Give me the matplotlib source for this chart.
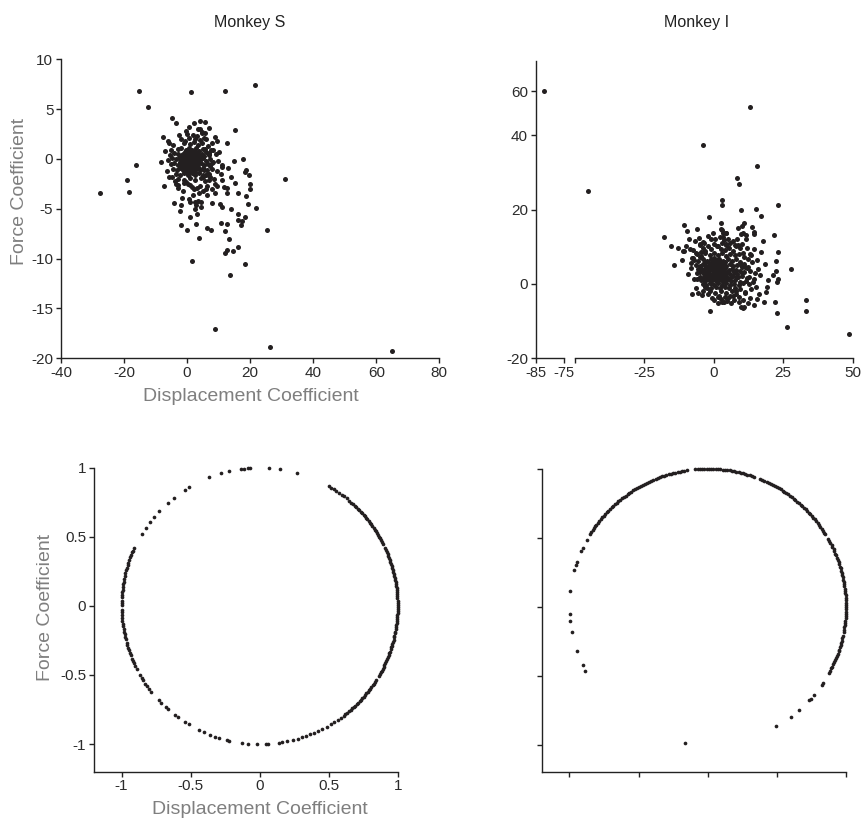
import numpy as np
import matplotlib
matplotlib.use('Agg')
import matplotlib.pyplot as plt

plt.rcParams['font.family'] = ['Liberation Sans', 'DejaVu Sans']
plt.rcParams['axes.unicode_minus'] = False

# ---- Monkey S, raw coefficients (scattered points, then the dense core) ----
s_disp = [
    -15.2, -12.4, 1.1, 11.9, 21.4, -27.7, -19.2, -18.4, -16.1, -7.8,
    -6.1, -4.7, -3.5, -0.4, 0.6, 2.3, 4.0, 5.7, 3.5, 7.1,
    4.7, 15.3, 8.9, 9.4, 12.6, 30.9, 17.8, 18.4, 18.8, 19.5,
    20.1, 13.1, 11.1, 15.3, 16.1, 18.7, 19.2, 21.8, 12.8, 11.6,
    11.1, 12.6, 16.0, 16.1, 17.1, 17.5, 18.3, 25.4, 10.4, 11.2,
    8.0, 10.7, 12.5, 11.9, 6.4, 7.5, 2.7, 0.1, -2.0, -2.2,
    -4.1, -1.5, 0.5, 0.8, 2.4, 3.4, 4.5, 4.4, 2.9, 3.7,
    13.3, 16.2, 14.6, 12.5, 11.9, 18.5, 1.4, 13.6, 8.8, 26.4,
    65.0, -7.3, -5.9, -3.5, -2.9, -1.1, -0.3, 1.5, 2.2, 3.1,
    4.1, 5.9, 6.4, 6.9, 8.8, 9.4, 7.4, 6.8,
    5.7, 8.1, 9.2, 6.9, 8.1, 7.3, 5.4, 6.1, 5.1, 10.0,
    -7.0, -6.5, -8.2, -4.8, -3.8, -2.5, 0.0, 1.8, 3.2, 4.6,
    6.0, 7.8, 9.5, 8.5, 10.6, 9.0, -5.8, -3.0, -1.2, 0.4,
    2.0, 3.8, 5.0, 6.4, 7.0, 1.0, -0.8, 8.0, 9.8, 11.2,
    14.0, 15.0, 13.8, 20.0, 5.6, 4.2, -1.8, 3.0, 0.8, 2.4,
    -2.0, 0.5, 2.5, 4.0, 5.5, -4.5, -1.0, 1.0, 2.2, 3.5,
    4.8, 6.5, -5.0, -3.0, -1.8, -0.5, 0.5, 1.5, 2.8, 3.8,
    5.0, 6.0, 7.5, -5.5, -4.0, -2.8, -1.5, -0.6, 0.3, 1.2,
    2.0, 3.0, 3.8, 4.6, 5.5, 6.8, -6.0, -4.8, -3.5, -2.5,
    -1.6, -0.8, 0.0, 0.8, 1.6, 2.4, 3.2, 4.0, 5.0, 6.0,
    7.2, -5.2, -4.0, -3.0, -2.0, -1.2, -0.4, 0.4, 1.2, 2.0,
    2.8, 3.6, 4.5, 5.4, 6.5, 8.0, -4.5, -3.2, -2.2, -1.2,
    -0.3, 0.6, 1.5, 2.4, 3.3, 4.2, 5.2, 6.3, 7.8, -3.5,
    -2.2, -1.0, 0.2, 1.4, 2.6, 3.8, 5.0, 6.2, -2.8, -1.0,
    0.8, 2.6, 4.4, 5.8, -1.8, -1.0, -0.2, 0.5, 1.0, 1.8,
    2.6, 3.4, -1.4, -0.6, 0.2, 1.0, 1.8, 2.6, 3.4, -0.8,
    0.0, 0.8, 1.6, 2.4, 3.2, -0.4, 0.6, 1.6, 2.6, 3.0,
    -2.4, 4.2, 1.3, 2.1, 0.9, -0.1, 1.9, 2.9, 3.9, -1.3,
]
s_force = [
    6.8, 5.2, 6.7, 6.8, 7.4, -3.4, -2.1, -3.3, -0.6, 2.2,
    1.8, 4.1, 3.6, 2.8, 3.2, 3.6, 3.8, 3.7, 3.0, 3.1,
    2.7, 2.9, 2.2, 1.8, 1.6, -2.0, 0.0, -1.3, -1.1, -1.6,
    -2.5, -0.9, -0.8, -2.4, -3.4, -3.7, -4.5, -4.9, -3.4, -2.8,
    -2.1, -2.9, -5.5, -6.1, -6.6, -6.2, -5.8, -7.1, -4.5, -4.8,
    -4.4, -6.4, -6.5, -7.2, -6.9, -7.1, -6.5, -7.1, -6.6, -5.2,
    -4.4, -3.9, -4.0, -4.3, -4.3, -4.2, -4.3, -4.8, -4.6, -7.9,
    -8.0, -8.8, -9.2, -9.1, -9.4, -10.5, -10.2, -11.6, -17.1, -18.9,
    -19.3, -2.7, -1.8, -2.5, -2.9, -2.4, -2.3, -2.8, -3.0, -2.9,
    -2.7, -3.0, -2.7, -2.1, -2.5, -2.7, -1.8, -1.5,
    1.0, 0.9, 0.5, 0.4, -0.3, -0.7, -1.1, -1.6, -1.8, 0.7,
    0.8, -1.2, -0.3, -1.8, -2.2, 2.4, 2.5, 2.4, 2.3, 2.6,
    2.0, 1.6, -1.2, -2.0, -1.5, -3.4, 1.6, -2.6, -3.2, -2.5,
    -3.6, -3.4, -3.2, -3.6, 0.6, -2.6, 1.8, -3.0, -0.2, -0.6,
    -1.8, -0.2, -5.0, -3.0, 2.6, 3.0, -4.6, -5.5, -5.8, -5.0,
    2.0, 2.1, 2.0, 1.9, 2.1, 1.4, 1.6, 1.5, 1.7, 1.4,
    1.6, 1.3, 0.9, 1.0, 1.1, 0.9, 1.1, 0.9, 1.1, 0.8,
    1.0, 0.7, 0.9, 0.4, 0.6, 0.5, 0.4, 0.6, 0.5, 0.6,
    0.4, 0.6, 0.4, 0.5, 0.3, 0.5, -0.1, 0.1, 0.0, 0.1,
    -0.1, 0.1, 0.0, 0.1, -0.1, 0.1, 0.0, -0.1, 0.1, -0.2,
    0.0, -0.5, -0.4, -0.6, -0.4, -0.6, -0.5, -0.4, -0.6, -0.4,
    -0.6, -0.5, -0.4, -0.6, -0.5, -0.4, -1.0, -1.1, -0.9, -1.1,
    -0.9, -1.1, -0.9, -1.1, -0.9, -1.1, -0.9, -1.1, -1.0, -1.5,
    -1.6, -1.4, -1.6, -1.4, -1.6, -1.4, -1.6, -1.5, -2.0, -2.1,
    -1.9, -2.1, -1.9, -2.2, 0.2, -0.3, 0.3, -0.2, 0.3, -0.3,
    0.2, -0.3, -0.7, -0.2, -0.8, -0.3, -0.8, -0.3, -0.8, 0.7,
    0.4, 0.8, 0.4, 0.8, 0.4, -1.3, -1.3, -1.2, -1.3, -0.1,
    -0.3, 0.2, 0.1, -0.6, -0.5, -0.2, 0.6, 0.3, -0.2, 0.5,
]

# ---- Monkey I, raw coefficients ----
i_disp = [
    -82.0, -45.2, 13.0, -3.7, 15.7, 8.3, 9.0, 2.9, 3.1, 23.3,
    9.8, 15.2, 16.9, -1.8, -17.9, -15.4, -14.4, -10.6, -9.6, -5.9,
    -11.2, -10.8, -7.7, -7.7, -3.7, -1.2, 2.8, 2.6, 4.3, 3.3,
    10.8, 10.3, 8.9, 9.7, 10.7, 11.6, 11.7, 13.6, 14.4, 14.4,
    21.7, 17.6, 14.4, 17.0, 23.3, 22.4, 18.4, 27.9, 22.4, 21.3,
    23.0, 22.6, 19.7, 19.1, 18.8, 15.3, 14.4, 18.1, 22.1, 22.8,
    33.1, 33.2, 26.4, 48.7, 14.5, 9.8, 11.0, 9.0, 3.0, 3.8,
    1.7, 10.6, 11.1, 13.3, 12.8, 3.0, -0.1, 3.5, 4.4, -4.8,
    -3.8, 1.1, 4.5, 8.7, -7.5, -5.0, -0.6, 16.5, 12.5, 16.0,
    -9.0, -8.0, -6.8, -5.2, -4.0, -2.2, 0.6, 2.2, 3.8, 5.2,
    6.8, 8.4, 10.2, 11.8, 13.2, 12.4, 10.8, 7.6, 5.0, -1.0,
    -10.0, -8.5, -9.2, -7.0, -11.5, -12.8, 13.8, 15.0, 12.6, 14.2,
    16.2, 11.2, 13.0, 15.4, 9.2, 7.4, 10.6, 12.2, 8.2, 6.2,
    -6.5, -5.5, -4.2, -3.0, 0.0, 1.5, 4.8, 6.8, -2.2, -0.6,
    2.8, 5.2, 8.8, 9.8, 11.4, -6.0, -8.0, -4.8, 13.5, 15.6,
    -5.0, -3.5, -2.0, 0.0, 1.5, 3.0, 4.5, 6.0, 8.0, 9.5,
    10.5, 2.5, 4.0, 5.5, 7.0, -1.0, -3.0, -4.5, -6.5, -7.5,
    -6.0, -4.5, -3.0, -1.5, 0.0, 1.5, 3.0, 4.5, 6.0, 7.5,
    9.0, -7.0, -5.5, -4.0, -2.5, -1.0, 0.5, 2.0, 3.5, 5.0,
    6.5, 8.0, 9.5, 11.0, -6.5, -5.0, -3.8, -2.6, -1.4, -0.2,
    1.0, 2.2, 3.4, 4.6, 5.8, 7.0, 8.5, 10.0, 12.0, -5.5,
    -4.2, -3.0, -1.8, -0.6, 0.6, 1.8, 3.0, 4.2, 5.4, 6.6,
    8.0, 9.5, 11.0, 13.0, -6.0, -4.8, -3.6, -2.4, -1.2, 0.0,
    1.2, 2.4, 3.6, 4.8, 6.0, 7.2, 8.5, 10.0, -5.0, -3.8,
    -2.6, -1.4, -0.2, 1.0, 2.2, 3.4, 4.6, 5.8, 7.0, 8.4,
    10.0, 12.0, -4.5, -3.2, -2.0, -0.8, 0.4, 1.6, 2.8, 4.0,
    5.2, 6.4, 7.8, 9.5, 11.5, -4.0, -2.6, -1.2, 0.2, 1.6,
    3.0, 4.4, 5.8, 7.4, 9.0, 10.5, -2.5, -0.8, 0.8, 2.4,
    4.0, 5.6, 7.5, 9.5, -1.5, 0.5, 2.5, 4.5, 6.5, 8.0,
    2.0, 4.0, 6.0, -2.0, -1.0, 0.0, 0.5, 1.5, 2.5, -0.5,
    0.8, 1.8, 2.8, -1.8, -2.8, 3.8, 4.2, 0.2, -0.8, 1.2,
    2.0, -1.5, 3.2, -3.2, -2.2, 0.0, 1.2, 2.6, 4.0, -3.5,
    3.0, 0.4, -0.4, 1.4, -1.0, 0.6, 2.0, -2.2, 1.6, 0.2,
]
i_force = [
    60.0, 25.0, 52.8, 37.3, 31.6, 28.6, 26.9, 22.6, 21.3, 21.2,
    20.0, 20.1, 18.4, 18.1, 12.6, 10.3, 5.2, 15.8, 14.3, 14.9,
    8.9, 8.8, 7.0, -2.7, -1.8, -7.2, 16.3, 14.7, 13.8, 12.7,
    16.3, 15.7, 15.0, 13.4, 13.6, 13.2, 12.1, 15.4, 14.1, 13.4,
    13.3, 11.5, 9.4, 8.5, 8.7, 6.3, 5.3, 4.1, 3.5, 2.4,
    1.3, 0.5, 1.0, -0.7, -2.2, -0.7, 1.2, -4.9, -4.8, -7.7,
    -4.3, -7.3, -11.7, -13.5, -5.6, -6.3, -6.1, -3.6, -4.8, -4.8,
    -3.4, -4.3, -2.2, -1.4, 0.0, 14.6, 13.7, 13.7, 13.7, 10.8,
    11.3, 10.2, 10.8, 10.5, 9.2, 4.6, 6.0, 2.5, 4.5, 4.0,
    12.0, 4.2, 11.6, 12.4, 9.8, 12.8, 12.2, 12.6, 11.8, 12.2,
    11.6, 12.0, 10.8, 9.6, 8.0, 6.8, 7.2, 10.4, 9.9, 12.0,
    10.2, 9.4, 2.6, 1.4, 6.5, 9.8, 5.8, 3.0, 2.0, 0.5,
    -2.8, -2.5, -3.8, -4.0, -4.8, -4.2, -6.5, -5.2, -2.0, -5.0,
    -1.0, -2.5, -3.0, -0.8, -4.2, -5.0, -4.6, -3.2, -2.8, -3.8,
    -4.0, -3.8, 1.8, 5.2, 4.6, 1.2, 5.6, 7.2, 7.8, 6.5,
    10.5, 11.0, 10.2, 10.8, 10.3, 11.0, 10.4, 10.9, 10.2, 9.8,
    8.2, 9.5, 9.2, 9.6, 9.0, 9.4, 9.0, 8.7, 8.4, 6.9,
    8.0, 7.6, 8.2, 7.7, 8.3, 7.8, 8.2, 7.6, 8.1, 7.7,
    8.0, 6.5, 6.2, 6.8, 6.3, 6.7, 6.2, 6.8, 6.3, 6.7,
    6.2, 6.6, 6.0, 5.5, 5.0, 4.7, 5.3, 4.8, 5.2, 4.7,
    5.3, 4.8, 5.2, 4.7, 5.3, 4.8, 5.1, 4.6, 4.2, 4.0,
    3.7, 4.2, 3.8, 4.2, 3.8, 4.2, 3.8, 4.2, 3.7, 4.1,
    3.8, 3.6, 3.3, 3.5, 2.9, 3.2, 2.8, 3.2, 2.8, 3.2,
    2.8, 3.2, 2.8, 3.2, 2.8, 3.1, 2.7, 2.9, 2.0, 1.7,
    2.2, 1.8, 2.2, 1.8, 2.2, 1.8, 2.2, 1.7, 2.1, 1.8,
    2.2, 1.5, 1.0, 0.7, 1.2, 0.8, 1.2, 0.8, 1.2, 0.8,
    1.2, 0.8, 1.0, 0.6, 0.9, 0.1, -0.2, 0.2, -0.2, 0.2,
    -0.2, 0.2, -0.2, 0.1, -0.3, 0.2, -1.0, -1.2, -0.9, -1.2,
    -0.9, -1.2, -1.0, -1.3, -2.0, -2.3, -1.9, -2.4, -2.0, -2.6,
    -3.3, -3.5, -3.2, 3.6, 2.4, 1.5, 4.5, 3.5, 2.6, 3.8,
    2.2, 5.6, 4.4, 4.5, 2.4, 3.4, 1.4, 5.8, 0.2, 0.4,
    1.2, 1.2, 0.6, 5.8, 6.0, 7.0, 6.5, 6.0, 5.8, 3.2,
    2.0, 3.4, 2.8, 4.8, 5.0, 1.0, 3.8, 1.6, 2.6, 4.0,
]

# ---- normalised (unit-length) coefficient directions, angle in degrees ----
s_angle = [
    111.4, 106.4, 103.0, 97.9, 96.7, 94.7, 93.9, 86.3, 81.4, 74.5,
    121.0, 122.8, 128.6, 131.8, 136.9, 139.7, 142.5, 145.5, 148.5,
    155.3, 156.4, 157.2, 158.5, 159.4, 160.7, 161.9, 162.8, 164.1, 165.0,
    166.4, 167.3, 168.6, 169.9, 170.8, 172.0, 173.3, 174.2, 175.6, 176.5,
    177.8, 178.9, 179.8, 181.7, 182.6, 183.9, 185.0, 186.2, 187.4, 188.3,
    189.7, 190.8, 191.9, 193.1, 194.0, 195.4, 196.5, 197.6, 198.8, 200.1,
    201.0, 202.4, 203.5, 204.6, 205.9, 207.0,
    209.8, 211.3, 212.6, 214.2, 215.5, 217.0, 218.3, 223.0, 224.5, 227.0,
    228.2, 232.0, 233.8, 237.5, 239.0, 244.0, 246.0, 249.0, 251.0, 253.0,
    256.5, 257.3, 262.5, 265.0, 269.0, 272.5, 273.5, 278.0, 279.5, 281.5,
    284.0, 286.0, 288.0, 289.5, 291.5, 293.0, 295.0, 297.0, 299.0, 301.0,
    302.5, 304.5, 306.0,
    -52.6, -51.8, -50.5, -49.7, -48.8, -47.9, -47.1, -46.2, -45.4, -44.5,
    -43.6, -42.8, -41.9, -41.1, -40.2, -39.3, -38.5, -37.6, -36.8, -35.9,
    -35.0, -34.2, -33.3, -32.5, -30.4, -29.6, -28.7, -27.9, -27.0, -26.1,
    -25.3, -24.4, -23.6, -22.7, -21.8, -21.0, -20.1, -19.3, -18.4, -17.5,
    -16.7, -15.8, -15.0, -14.1, -13.2, -12.4, -11.5, -10.7, -9.8, -8.9,
    -8.1, -7.2, -6.4, -5.5, -4.6, -3.8, -2.9, -2.1, -1.2, -0.3,
    0.5, 1.4, 2.2, 3.1, 4.0, 4.8, 5.7, 6.5, 7.4, 8.3,
    9.1, 10.0, 10.8, 11.7, 12.6, 13.4, 14.3, 15.1, 16.0, 16.9,
    17.7, 18.6, 19.4, 20.3, 21.2, 22.0, 22.9, 23.7, 24.6, 26.6,
    27.5, 28.3, 29.2, 30.1, 30.9, 31.8, 32.6, 33.5, 34.4, 35.2,
    36.1, 36.9, 37.8, 38.7, 39.5, 40.4, 41.2, 42.1, 43.0, 43.8,
    44.7, 45.5, 46.4, 47.3, 48.3, 49.6, 51.0, 52.4, 53.5, 54.9,
    56.2, 57.4, 58.7, 59.8,
]
i_angle = [
    -99.3, -60.2, -52.8, -48.7, -42.7, -41.9, -39.7, -34.5, -33.6,
    -28.5, -27.6, -26.5, -25.7, -24.6, -23.8, -22.7, -21.9, -20.8, -20.0,
    -18.9, -18.1, -17.0, -16.2, -15.1, -14.3, -13.2, -12.3,
    -10.6, -9.7, -8.6, -7.8, -6.7, -5.9, -4.8, -4.0, -2.9, -2.1,
    -1.0, -0.2, 0.9, 1.7, 2.8, 3.6, 4.7, 5.5, 6.6, 7.4,
    8.5, 9.3, 10.4, 11.2, 12.3, 13.1, 14.2, 15.0, 16.1, 16.9,
    18.0, 18.8, 19.9, 20.7, 21.8, 22.6, 23.7, 24.5, 25.6, 26.4,
    27.5, 28.4, 29.4,
    31.6, 32.5, 33.5, 34.4, 35.4, 36.3, 37.3, 38.2, 39.2, 40.1,
    41.1, 42.0, 43.0, 43.9, 44.9, 45.8, 46.8, 47.7, 48.7, 49.6,
    50.6, 51.5, 52.5, 53.4, 54.4, 55.3, 56.3, 57.2, 58.2, 59.1,
    60.1, 61.0, 62.0, 62.9, 63.9, 64.8, 65.8, 66.7, 67.7,
    70.5, 71.4, 72.4, 73.3, 74.3, 75.2, 76.2, 77.1, 78.1, 79.0,
    80.0, 80.9, 81.9, 82.8, 83.8, 84.7, 85.7, 86.6, 87.6, 88.5,
    89.5, 90.4, 91.4, 92.3, 93.3, 94.2, 95.2,
    98.8, 99.8, 100.7, 101.7, 102.6, 103.6, 104.5, 105.5, 106.4, 107.4,
    108.3, 109.3, 110.2, 111.2, 112.1, 113.1, 114.0, 115.0, 115.9, 116.9,
    117.8, 118.8, 119.7, 120.7, 121.6, 122.6, 123.5, 124.5, 125.4, 126.4,
    127.3, 128.3, 129.2, 130.2, 131.1, 132.1, 133.0, 134.0, 134.9, 135.9,
    136.8, 137.8, 138.7, 139.7, 140.6, 141.6, 142.5, 143.5, 144.4, 145.4,
    146.3, 147.3, 148.2,
    150.9, 154.7, 156.0, 161.3, 162.2, 164.5, 173.6, 183.1, 186.0, 190.4,
    198.7, 205.2, 207.9,
]

unit_ticks = [-1, -0.5, 0, 0.5, 1]
unit_labels = ['-1', '-0.5', '0', '0.5', '1']

DOT = '#231f20'
TXT = '#2b2b2b'
LAB = '#7f7f7f'
W, H = 863, 819

fig = plt.figure(figsize=(W / 100, H / 100), dpi=100)


def box(l, t, r, b):
    # pixel box -> figure fraction
    return [l / W, 1 - b / H, (r - l) / W, (b - t) / H]


def clean(ax, left=True):
    for s in ['top', 'right']:
        ax.spines[s].set_visible(False)
    if not left:
        ax.spines['left'].set_visible(False)
    for s in ['left', 'bottom']:
        ax.spines[s].set_linewidth(1.0)
        ax.spines[s].set_color('#222222')
    ax.tick_params(direction='out', length=3.5, width=1.0, color='#222222',
                   labelsize=11, labelcolor=TXT, pad=2)
    ax.patch.set_alpha(0)


# top-left: Monkey S raw
ax = fig.add_axes(box(61, 59.3, 439.3, 358.3))
ax.scatter(s_disp, s_force, s=13, color=DOT, linewidths=0, clip_on=False)
ax.set_xlim(-40, 80)
ax.set_ylim(-20, 10)
ax.set_xticks([-40, -20, 0, 20, 40, 60, 80])
ax.set_yticks([-20, -15, -10, -5, 0, 5, 10])
clean(ax)


# top-right: Monkey I raw, broken x axis and squeezed top of y axis
def squeeze(y):
    y = np.asarray(y, float)
    return np.where(y > 40, 40 + (y - 40) * 0.59, y)


def unsqueeze(u):
    u = np.asarray(u, float)
    return np.where(u > 40, 40 + (u - 40) / 0.59, u)


i_disp = np.array(i_disp)
i_force = np.array(i_force)
far = i_disp < -60

ax_a = fig.add_axes(box(535.7, 60.7, 563.9, 358.3))
ax_b = fig.add_axes(box(574.7, 60.7, 852.7, 358.3))
for a in (ax_a, ax_b):
    a.set_yscale('function', functions=(squeeze, unsqueeze))
    a.set_ylim(-20, 74)
ax_a.scatter(i_disp[far], i_force[far], s=13, color=DOT, linewidths=0, clip_on=False)
ax_b.scatter(i_disp[~far], i_force[~far], s=13, color=DOT, linewidths=0, clip_on=False)
ax_a.set_xlim(-85, -75)
ax_a.set_xticks([-85, -75])
ax_a.set_yticks([-20, 0, 20, 40, 60])
ax_a.set_yticklabels(['-20', '0', '20', '40', '60'])
ax_b.set_xlim(-50, 50)
ax_b.set_xticks([-50, -25, 0, 25, 50])
ax_b.set_xticklabels(['', '-25', '0', '25', '50'])
ax_b.set_yticks([])
clean(ax_a)
clean(ax_b, left=False)
ax_a.tick_params(axis='x', labelsize=10.5)

# bottom-left: Monkey S normalised
s_rad = np.radians(s_angle)
ax = fig.add_axes(box(94, 467.7, 397.7, 771.7))
ax.scatter(np.cos(s_rad), np.sin(s_rad), s=7, color=DOT, linewidths=0, clip_on=False)
ax.set_xlim(-1.2, 1)
ax.set_ylim(-1.2, 1)
ax.set_xticks(unit_ticks)
ax.set_xticklabels(unit_labels)
ax.set_yticks(unit_ticks)
ax.set_yticklabels(unit_labels)
clean(ax)

# bottom-right: Monkey I normalised
i_rad = np.radians(i_angle)
ax = fig.add_axes(box(541.7, 468.7, 846, 772.3))
ax.scatter(np.cos(i_rad), np.sin(i_rad), s=7, color=DOT, linewidths=0, clip_on=False)
ax.set_xlim(-1.2, 1)
ax.set_ylim(-1.2, 1)
ax.set_xticks(unit_ticks)
ax.set_yticks(unit_ticks)
ax.set_xticklabels([])
ax.set_yticklabels([])
clean(ax)

# titles and axis labels
fig.text(250 / W, 1 - 22 / H, 'Monkey S', ha='center', va='center', fontsize=11.5, color='#222222')
fig.text(697 / W, 1 - 22 / H, 'Monkey I', ha='center', va='center', fontsize=11.5, color='#222222')
fig.text(19 / W, 1 - 191 / H, 'Force Coefficient', rotation=90, ha='center', va='center',
         fontsize=14, color=LAB)
fig.text(251 / W, 1 - 396 / H, 'Displacement Coefficient', ha='center', va='center',
         fontsize=14, color=LAB)
fig.text(45 / W, 1 - 607 / H, 'Force Coefficient', rotation=90, ha='center', va='center',
         fontsize=14, color=LAB)
fig.text(260 / W, 1 - 810 / H, 'Displacement Coefficient', ha='center', va='center',
         fontsize=14, color=LAB)

fig.savefig('out.png', dpi=100)
